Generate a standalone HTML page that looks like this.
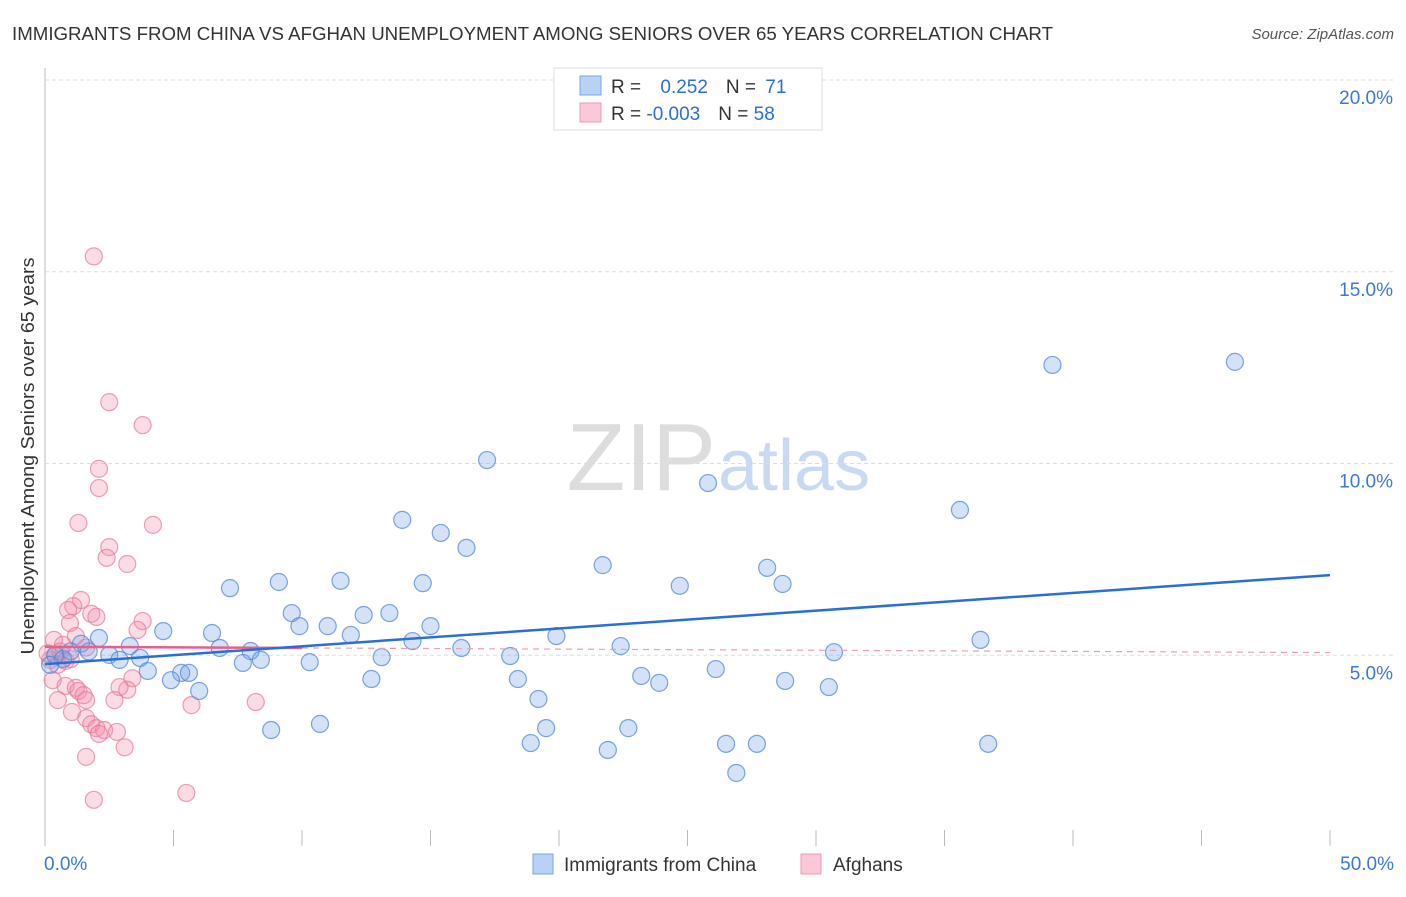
<!DOCTYPE html>
<html><head><meta charset="utf-8"><style>
body{margin:0;background:#fff;font-family:"Liberation Sans",sans-serif}
svg text{font-family:"Liberation Sans",sans-serif}
</style></head><body>
<svg id="c" width="1406" height="892">
<text x="12" y="40" font-size="18" fill="#333" textLength="1041" lengthAdjust="spacingAndGlyphs">IMMIGRANTS FROM CHINA VS AFGHAN UNEMPLOYMENT AMONG SENIORS OVER 65 YEARS CORRELATION CHART</text>
<text x="1394" y="39" font-size="15" fill="#555" text-anchor="end" font-style="italic">Source: ZipAtlas.com</text>
<text x="716" y="490" font-size="96" fill="#ddd" text-anchor="end" font-family="Liberation Serif">ZIP</text>
<text x="718" y="490" font-size="72" fill="#c8daf2">atlas</text>
<text transform="translate(34,456) rotate(-90)" font-size="18" fill="#333" text-anchor="middle" textLength="397" lengthAdjust="spacingAndGlyphs">Unemployment Among Seniors over 65 years</text>
<g id="grid"></g><g id="marks"></g>
<g>
<rect x="554" y="68" width="268" height="62" fill="#fff" stroke="#ddd"/>
<rect x="580" y="76" width="21" height="19" fill="#b8d1f5" stroke="#7aa5e6"/>
<rect x="580" y="103" width="21" height="19" fill="#fbc8d7" stroke="#ee9ab4"/>
<text x="611" y="93" font-size="19" fill="#333">R = <tspan fill="#2a6fd6" dx="14">0.252</tspan><tspan dx="18" fill="#333">N = </tspan><tspan fill="#2a6fd6" dx="4">71</tspan></text>
<text x="611" y="120" font-size="19" fill="#333">R = <tspan fill="#2a6fd6">-0.003</tspan><tspan dx="18" fill="#333">N = </tspan><tspan fill="#2a6fd6">58</tspan></text>
</g>
<g>
<rect x="533" y="854" width="20" height="20" fill="#b8d1f5" stroke="#7aa5e6"/>
<text x="564" y="871" font-size="19" fill="#333">Immigrants from China</text>
<rect x="801" y="854" width="20" height="20" fill="#fbc8d7" stroke="#ee9ab4"/>
<text x="833" y="871" font-size="19" fill="#333">Afghans</text>
</g>
</svg>
<script>
const yTicks=[5,10,15,20];
const xTickVals=[0,5,10,15,20,25,30,35,40,45,50];
const xLabels=["0.0%","50.0%"];
const chinaX=[46.3,39.2,17.2,25.8,35.6,13.9,15.4,16.4,21.7,28.1,7.2,9.1,11.5,14.7,24.7,28.7,9.6,12.4,13.4,9.9,11.0,15.0,4.6,6.5,11.9,19.9,36.4,2.1,3.3,14.3,22.4,6.8,8.0,16.2,30.7,18.1,13.1,2.5,3.7,2.9,7.7,8.4,10.3,4.0,5.3,5.6,4.9,26.1,12.7,18.4,23.2,23.9,28.8,30.5,6.0,19.2,10.7,8.8,19.5,22.7,18.9,21.9,26.5,27.7,36.7,26.9,0.4,0.7,1.0,1.4,0.2,1.7];
const chinaY=[12.65,12.57,10.09,9.49,8.79,8.53,8.19,7.80,7.35,7.28,6.75,6.91,6.94,6.88,6.81,6.86,6.10,6.05,6.10,5.76,5.76,5.76,5.63,5.58,5.53,5.50,5.40,5.45,5.24,5.37,5.24,5.19,5.11,5.19,5.08,4.98,4.95,5.01,4.93,4.88,4.80,4.88,4.82,4.59,4.54,4.54,4.35,4.64,4.38,4.38,4.46,4.28,4.33,4.17,4.07,3.86,3.21,3.05,3.10,3.10,2.71,2.53,2.69,2.69,2.69,1.93,5.0,4.9,5.1,5.3,4.75,5.1];
const afgX=[1.9,2.5,3.8,2.1,2.1,1.3,4.2,2.5,2.4,3.2,1.4,1.1,0.9,1.8,2.0,3.8,0.97,3.6,1.2,0.35,0.7,1.6,0.2,0.5,0.3,0.8,1.2,1.3,1.5,1.6,0.5,3.4,3.2,2.9,2.7,5.7,8.2,1.05,1.6,1.8,2.0,2.3,2.1,2.8,3.1,1.6,5.5,1.9,0.4,0.6,0.8,0.1,1.0];
const afgY=[15.4,11.6,11.0,9.86,9.36,8.45,8.4,7.82,7.54,7.38,6.44,6.28,6.18,6.08,6.0,5.89,5.84,5.66,5.5,5.4,5.27,5.2,4.88,4.75,4.35,4.2,4.15,4.07,3.96,3.83,3.83,4.4,4.1,4.17,3.83,3.7,3.78,3.52,3.36,3.2,3.1,3.05,2.95,3.0,2.6,2.35,1.41,1.23,5.0,5.1,4.85,5.05,4.9];
const chinaFit=[4.77,7.09];
const afgFit=[5.22,5.07];
const X=v=>45+v*25.7, Y=v=>847-v*38.35;
const NS="http://www.w3.org/2000/svg";
const g=document.getElementById('grid'), m=document.getElementById('marks');
function mk(tag,at,parent){const e=document.createElementNS(NS,tag);for(const k in at)e.setAttribute(k,at[k]);parent.appendChild(e);return e;}
const ax=mk('line',{x1:45,y1:68,x2:45,y2:846,stroke:'#bbb'},g);


yTicks.forEach(t=>{
 const l=mk('line',{x1:45,x2:1394,y1:Y(t),y2:Y(t),stroke:'#ddd','stroke-dasharray':'4,3'},g);
 
 
 const tx=mk('text',{x:1393,y:Y(t)+24,'font-size':19,fill:'#3b78d8','text-anchor':'end'},g);
 tx.textContent=t.toFixed(1)+'%';
 
 
});
xTickVals.forEach(t=>{
 if(t===0)return;
 const l=mk('line',{x1:X(t),x2:X(t),y1:830,y2:846,stroke:'#bbb'},g);
 
 
});
[[0,'start',44],[50,'end',1394]].forEach((d,i)=>{
 const tx=mk('text',{x:d[2],y:870,'font-size':19,fill:'#3b78d8','text-anchor':d[1]},g);
 tx.textContent=xLabels[i];
 
 
});
afgX.forEach((x,i)=>{
 const c=mk('circle',{cx:X(x),cy:Y(afgY[i]),r:8.5,fill:'rgba(242,140,170,0.3)',stroke:'rgba(230,120,155,0.7)','stroke-width':1.2},m);
 
 
});
chinaX.forEach((x,i)=>{
 const c=mk('circle',{cx:X(x),cy:Y(chinaY[i]),r:8.5,fill:'rgba(110,160,230,0.3)',stroke:'rgba(80,135,215,0.75)','stroke-width':1.2},m);
 
 
});
const pv=x=>afgFit[0]+(afgFit[1]-afgFit[0])*x/50;
const pl=mk('line',{x1:X(0),y1:Y(pv(0)),x2:X(10),y2:Y(pv(10)),stroke:'#e8608a','stroke-width':2.5},m);


const pd=mk('line',{x1:X(10),y1:Y(pv(10)),x2:X(50),y2:Y(pv(50)),stroke:'#e8a0b8','stroke-width':1.2,'stroke-dasharray':'6,5'},m);


const bl=mk('line',{x1:X(0),y1:Y(chinaFit[0]),x2:X(50),y2:Y(chinaFit[1]),stroke:'#2a6fd6','stroke-width':2.5},m);


</script>
</body></html>
